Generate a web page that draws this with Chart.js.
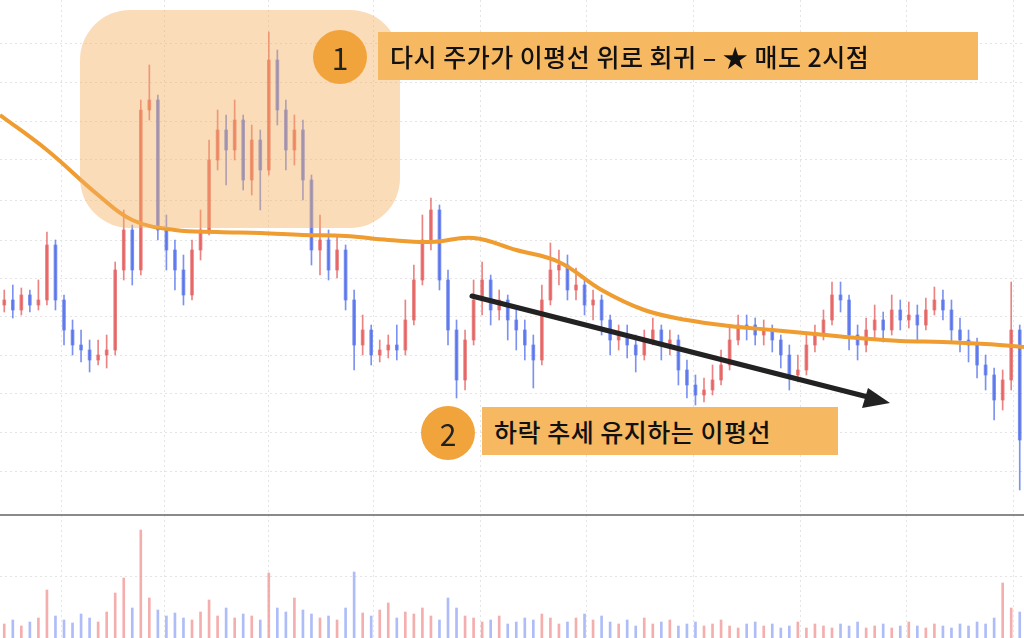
<!DOCTYPE html>
<html><head><meta charset="utf-8">
<script src="https://cdn.jsdelivr.net/npm/chart.js@4"></script>
<style>
body{margin:0;width:1024px;height:638px;overflow:hidden;background:#fff;font-family:"Noto Sans CJK KR",sans-serif;}
#wrap{position:relative;width:1024px;height:638px;}
.zone{position:absolute;left:80px;top:10px;width:320px;height:218px;border-radius:50px;background:rgba(245,178,100,0.45);}
.num{position:absolute;width:54px;height:54px;border-radius:50%;background:#f2a43c;color:#222;font-size:30px;line-height:54px;text-align:center;}
.lab{position:absolute;background:#f6b860;color:#111;font-size:25px;font-weight:500;line-height:48px;padding:0 12px;letter-spacing:0.5px;}
</style></head>
<body><div id="wrap"><canvas id="c" width="1024" height="638"></canvas>
<div class="zone"></div>
<div class="num" style="left:313px;top:30px">1</div>
<div class="lab" style="left:378px;top:32px;width:576px">다시 주가가 이평선 위로 회귀 – ★ 매도 2시점</div>
<div class="num" style="left:421px;top:406px">2</div>
<div class="lab" style="left:482px;top:407px;width:332px">하락 추세 유지하는 이평선</div>
</div>
<script>
// prices are in chart units where larger = lower on screen (axis reversed)
const closes = [300,310,295,305,300,245,300,330,345,350,360,355,350,270,230,270,110,100,230,250,
  270,295,250,230,160,130,150,120,180,140,170,60,110,150,130,180,250,240,270,250,
  300,345,330,355,350,345,350,320,280,240,210,280,330,380,340,300,280,310,300,320,
  330,345,360,300,270,265,290,285,305,300,320,340,335,345,355,340,330,345,340,370,
  385,395,390,380,365,340,325,325,335,330,340,355,375,370,345,335,320,295,300,335,
  345,330,320,330,310,320,315,325,310,300,310,330,340,345,365,375,400,380,330,440];
const highs = [290,285,288,290,280,232,240,295,320,330,340,340,335,262,210,225,100,65,95,215,
  240,255,240,210,140,110,115,100,115,125,130,32,50,100,115,120,175,215,230,235,
  245,290,315,325,340,335,325,300,265,215,198,205,270,320,330,280,262,275,290,295,
  310,320,335,285,243,250,255,268,280,290,295,315,325,325,335,330,318,325,330,335,
  360,375,378,365,350,325,315,315,318,320,325,335,345,355,335,325,310,282,282,295,
  325,318,305,312,295,300,302,305,298,287,290,300,318,330,338,355,368,370,282,325];
const lows = [312,318,315,312,310,305,310,345,355,362,372,365,368,355,280,285,275,120,240,270,
  290,305,300,260,235,170,185,160,190,195,210,175,125,170,165,200,265,275,280,278,
  310,370,355,365,362,358,360,355,325,285,250,290,345,398,390,345,315,325,320,340,
  350,360,388,365,305,285,300,300,315,320,335,355,350,358,372,360,345,360,355,385,
  398,405,402,395,385,370,345,340,345,345,352,368,390,382,375,352,340,325,312,350,
  360,352,338,342,335,330,328,340,330,315,320,342,352,362,378,390,420,410,390,490];
const volumes = [14,18,12,16,20,48,22,18,15,24,20,16,26,45,60,30,108,40,28,22,
  25,20,18,26,38,22,30,20,24,22,18,65,30,26,40,28,24,20,22,18,
  30,66,25,22,28,35,20,26,24,30,22,18,40,30,22,20,16,18,22,14,
  16,20,18,24,20,14,16,20,24,18,22,16,14,18,12,20,14,16,18,12,
  14,16,12,14,18,12,10,14,16,12,14,10,12,16,10,14,12,10,14,12,
  16,10,12,14,10,12,16,12,10,14,12,10,14,12,16,14,20,55,30,26];
const opens = [305].concat(closes.slice(0, -1));
// moving average line, sampled at candle index positions
const maIdx = [-0.5,5,11,15,20,25,30,35,40,45,50,55,60,65,70,75,80,85,90,95,100,105,110,115,119.5];
const maVal = [115,150,195,220,230,232,233,235,236,240,242,238,250,262,290,310,320,326,330,334,338,341,342,344,347];

const isUp = closes.map((c, i) => c < opens[i]);
const red = 'rgba(228,90,90,0.75)', blue = 'rgba(80,110,235,0.75)';
const cols = isUp.map(u => u ? red : blue);
const volBase = 638;

const extras = {
  id: 'extras',
  afterDatasetsDraw(chart) {
    const ctx = chart.ctx, y = chart.scales.y;
    ctx.save();
    const py = y.getPixelForValue(515);
    ctx.strokeStyle = '#8a8a8a'; ctx.lineWidth = 2;
    ctx.beginPath(); ctx.moveTo(0, py); ctx.lineTo(1024, py); ctx.stroke();
    // trend arrow
    ctx.strokeStyle = '#222'; ctx.fillStyle = '#222'; ctx.lineWidth = 5; ctx.lineCap = 'round';
    ctx.beginPath(); ctx.moveTo(472, 296); ctx.lineTo(868, 397); ctx.stroke();
    ctx.beginPath(); ctx.moveTo(890, 403); ctx.lineTo(862, 408); ctx.lineTo(868, 388); ctx.closePath(); ctx.fill();
    ctx.restore();
  }
};

new Chart(document.getElementById('c'), {
  type: 'bar',
  data: {
    datasets: [
      { type: 'line', data: maIdx.map((x, i) => ({x: x, y: maVal[i]})), borderColor: '#ef9c30',
        borderWidth: 4, pointRadius: 0, tension: 0.4, order: 0 },
      { data: closes.map((c, i) => ({x: i, y: [highs[i], lows[i]]})), backgroundColor: cols,
        barThickness: 1, grouped: false, order: 2 },
      { data: closes.map((c, i) => ({x: i, y: [opens[i], c === opens[i] ? c + 1 : c]})), backgroundColor: cols,
        barThickness: 3, grouped: false, order: 1 },
      { data: volumes.map((v, i) => ({x: i, y: [volBase, volBase - v]})), backgroundColor: isUp.map(u => u ? 'rgba(240,140,140,0.7)' : 'rgba(140,160,245,0.7)'),
        barThickness: 2, grouped: false, order: 3 }
    ]
  },
  options: {
    responsive: false, animation: false,
    layout: { padding: 0 },
    plugins: { legend: { display: false }, tooltip: { enabled: false } },
    scales: {
      x: { type: 'linear', min: -0.5, max: 119.5, offset: false,
        afterBuildTicks: s => { s.ticks = [1, 12.5, 25, 37, 49.5, 62, 74.5, 87, 99.5, 112].map(v => ({value: v})); },
        ticks: { display: false }, grid: { color: '#e4e4e4', drawTicks: false }, border: { display: false, dash: [2, 3] } },
      y: { min: 0, max: 638, reverse: true,
        afterBuildTicks: s => { s.ticks = [43, 82, 121, 160, 200, 240, 278, 316, 355, 393, 432, 471, 576].map(v => ({value: v})); },
        ticks: { display: false }, grid: { color: '#e4e4e4', drawTicks: false }, border: { display: false, dash: [2, 3] } }
    }
  },
  plugins: [extras]
});
</script></body></html>
